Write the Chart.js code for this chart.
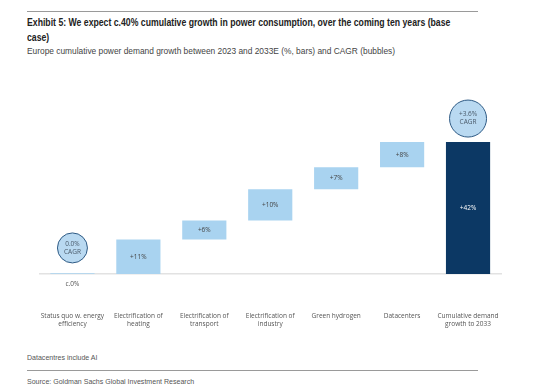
<!DOCTYPE html>
<html>
<head>
<meta charset="utf-8">
<script src="https://cdn.jsdelivr.net/npm/chart.js@4"></script>
<style>
  body { margin: 0; width: 560px; height: 389px; background: #fff; position: relative; overflow: hidden; }
  .rule { position: absolute; left: 27px; width: 451px; height: 0; border-top: 1.5px solid #9a9a9a; }
  .title { position: absolute; left: 27px; top: 15px; width: 557px; font: bold 11px 'Liberation Sans', sans-serif; color: #222; line-height: 15px; transform: scaleX(0.79); transform-origin: left top; }
  .sub { position: absolute; left: 27px; top: 45px; white-space: nowrap; font: 9.5px 'Liberation Sans', sans-serif; color: #444; transform: scaleX(0.88); transform-origin: left top; }
  .note { position: absolute; left: 27px; white-space: nowrap; font: 8px 'Liberation Sans', sans-serif; color: #555; transform: scaleX(0.88); transform-origin: left top; }
  #wrap { position: absolute; left: 0; top: 95px; width: 540px; height: 245px; }
</style>
</head>
<body>
<div class="rule" style="top:11px"></div>
<div class="title">Exhibit 5: We expect c.40% cumulative growth in power consumption, over the coming ten years (base case)</div>
<div class="sub">Europe cumulative power demand growth between 2023 and 2033E (%, bars) and CAGR (bubbles)</div>
<div class="note" style="top:353px">Datacentres include AI</div>
<div class="rule" style="top:370px"></div>
<div class="note" style="top:377px">Source: Goldman Sachs Global Investment Research</div>
<div id="wrap"><canvas id="chart"></canvas></div>
<script>
  // categories and values
  var categories = [
    ['Status quo w. energy', 'efficiency'],
    ['Electrification of', 'heating'],
    ['Electrification of', 'transport'],
    ['Electrification of', 'industry'],
    'Green hydrogen',
    'Datacenters',
    ['Cumulative demand', 'growth to 2033']
  ];
  var increments = [0, 11, 6, 10, 7, 8];
  var total = 42;
  var barLabels = ['c.0%', '+11%', '+6%', '+10%', '+7%', '+8%', '+42%'];
  var cagrIndex = [0, 6];
  var cagrLabels = ['0.0%', '+3.6%'];
  var bubbleLevel = [8.3, 49.5];

  // build floating waterfall ranges
  var ranges = [];
  var run = 0;
  increments.forEach(function (v) {
    ranges.push(v === 0 ? [-0.2, 0.2] : [run, run + v]);
    run += v;
  });
  ranges.push([0, total]);

  var barColors = ranges.map(function (r, i) {
    return i === ranges.length - 1 ? '#0c3864' : '#a9d3f0';
  });

  var bubblePoints = cagrIndex.map(function (ci, i) {
    return { x: categories[ci], y: bubbleLevel[i] };
  });

  var labelPlugin = {
    id: 'labels',
    afterDatasetsDraw: function (chart) {
      var ctx = chart.ctx;
      ctx.save();
      ctx.textAlign = 'center';
      ctx.textBaseline = 'middle';
      ctx.font = '6.5px "Open Sans", sans-serif';
      chart.getDatasetMeta(0).data.forEach(function (bar, i) {
        if (i === 0) {
          ctx.fillStyle = '#555';
          ctx.fillText(barLabels[i], bar.x, bar.y + 11);
          return;
        }
        var mid = (bar.y + bar.base) / 2;
        ctx.fillStyle = i === ranges.length - 1 ? '#fff' : '#444';
        ctx.fillText(barLabels[i], bar.x, mid);
      });
      chart.getDatasetMeta(1).data.forEach(function (pt, i) {
        ctx.fillStyle = '#4a5a6a';
        ctx.fillText(cagrLabels[i], pt.x, pt.y - 4);
        ctx.fillText('CAGR', pt.x, pt.y + 4);
      });
      ctx.restore();
    }
  };

  new Chart(document.getElementById('chart'), {
    type: 'bar',
    data: {
      labels: categories,
      datasets: [{
        data: ranges,
        backgroundColor: barColors,
        categoryPercentage: 1,
        barPercentage: 0.67,
        order: 2
      }, {
        type: 'scatter',
        data: bubblePoints,
        backgroundColor: '#b9d9f1',
        borderColor: '#2e5a84',
        borderWidth: 1,
        pointRadius: function (c) { return c.dataIndex === 0 ? 15 : 18.5; },
        pointHoverRadius: function (c) { return c.dataIndex === 0 ? 15 : 18.5; },
        order: 1
      }]
    },
    options: {
      responsive: true,
      maintainAspectRatio: false,
      animation: false,
      layout: { autoPadding: false, padding: { left: 39, right: 39, top: 0, bottom: 0 } },
      plugins: { legend: { display: false }, tooltip: { enabled: false } },
      scales: {
        x: {
          type: 'category',
          grid: { display: false, drawTicks: false },
          border: { color: '#e2e2e2', width: 1.5 },
          ticks: { padding: 38, autoSkip: false, color: '#555', font: { family: 'Open Sans', size: 6.5 }, maxRotation: 0 },
          afterFit: function (scale) { scale.height = 66; }
        },
        y: {
          display: false,
          min: 0,
          max: 57
        }
      }
    },
    plugins: [labelPlugin]
  });
</script>
</body>
</html>
